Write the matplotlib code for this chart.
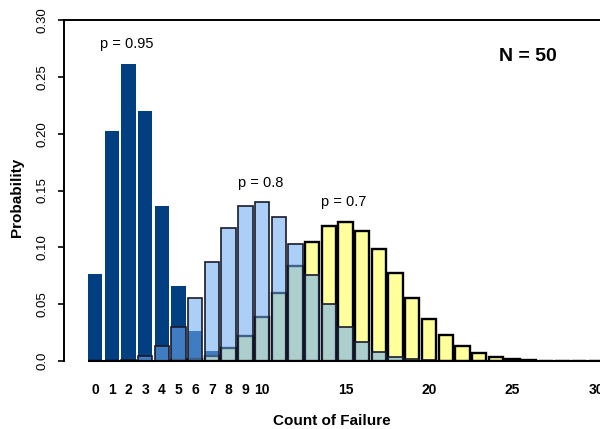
import matplotlib
matplotlib.use("Agg")
import matplotlib.pyplot as plt
import numpy as np

plt.rcParams['font.family'] = ['Liberation Sans', 'DejaVu Sans']

# Number of failures out of N = 50 trials
counts = list(range(31))

# Probability of each failure count, for three success probabilities p
prob_p95 = [0.0769, 0.2025, 0.2611, 0.2199, 0.1360, 0.0658, 0.0260, 0.0086,
            0.0024, 0.0006, 0.0001, 0.0, 0.0, 0.0, 0.0, 0.0, 0.0, 0.0, 0.0,
            0.0, 0.0, 0.0, 0.0, 0.0, 0.0, 0.0, 0.0, 0.0, 0.0, 0.0, 0.0]
prob_p80 = [0.0000, 0.0002, 0.0011, 0.0044, 0.0128, 0.0295, 0.0554, 0.0870,
            0.1169, 0.1364, 0.1398, 0.1271, 0.1033, 0.0755, 0.0499, 0.0299,
            0.0164, 0.0082, 0.0037, 0.0016, 0.0006, 0.0002, 0.0001, 0.0,
            0.0, 0.0, 0.0, 0.0, 0.0, 0.0, 0.0]
prob_p70 = [0.0, 0.0, 0.0, 0.0, 0.0001, 0.0006, 0.0018, 0.0048, 0.0110,
            0.0220, 0.0386, 0.0602, 0.0838, 0.1050, 0.1189, 0.1223, 0.1147,
            0.0983, 0.0772, 0.0558, 0.0370, 0.0227, 0.0128, 0.0067, 0.0032,
            0.0014, 0.0006, 0.0002, 0.0001, 0.0, 0.0]

xtick_values = [0, 1, 2, 3, 4, 5, 6, 7, 8, 9, 10, 15, 20, 25, 30]
ytick_values = [0.0, 0.05, 0.10, 0.15, 0.20, 0.25, 0.30]
ytick_labels = ["0.0", "0.05", "0.10", "0.15", "0.20", "0.25", "0.30"]

W, H = 600, 429
fig = plt.figure(figsize=(W / 100, H / 100), dpi=100)
ax = fig.add_axes([64 / W, 68 / H, 536 / W, 341 / H])

bar_w = 0.86
ax.bar(counts, prob_p95, width=bar_w, color='#023f80', edgecolor='none', zorder=2)
ax.bar(counts, prob_p70, width=bar_w, color='#ffff9c', edgecolor='black',
       linewidth=1.7, zorder=3)
ax.bar(counts, prob_p80, width=bar_w,
       facecolor=(110 / 255, 172 / 255, 243 / 255, 0.57),
       edgecolor='#1a1a2a', linewidth=1.2, zorder=4)

x_left, x_right = -1.86, 30.24
ax.set_xlim(x_left, x_right)
ax.set_ylim(0, 0.30)
ax.hlines(0, -bar_w / 2, x_right, color='black', linewidth=1.5, zorder=5,
          clip_on=False)

for side in ('right', 'bottom'):
    ax.spines[side].set_visible(False)
for side in ('left', 'top'):
    ax.spines[side].set_linewidth(1.4)

ax.set_xticks(xtick_values)
ax.set_xticklabels([str(v) for v in xtick_values], fontsize=10, fontweight='bold')
ax.tick_params(axis='x', length=0, pad=16)

ax.set_yticks(ytick_values)
ax.set_yticklabels(ytick_labels, rotation=90, va='center', fontsize=9.5)
ax.tick_params(axis='y', length=4.3, width=1.2, pad=7)

ax.set_xlabel("Count of Failure", fontsize=11, fontweight='bold', labelpad=12)
ax.set_ylabel("Probability", fontsize=11, fontweight='bold')
ax.yaxis.set_label_coords(-0.074, 0.48)

ax.text(1.92, 0.279, "p = 0.95", ha='center', va='center', fontsize=10.5)
ax.text(9.9, 0.1566, "p = 0.8", ha='center', va='center', fontsize=10.5)
ax.text(14.9, 0.140, "p = 0.7", ha='center', va='center', fontsize=10.5)
ax.text(25.9, 0.268, "N = 50", ha='center', va='center', fontsize=14,
        fontweight='bold')

fig.savefig("out.png", dpi=100)
